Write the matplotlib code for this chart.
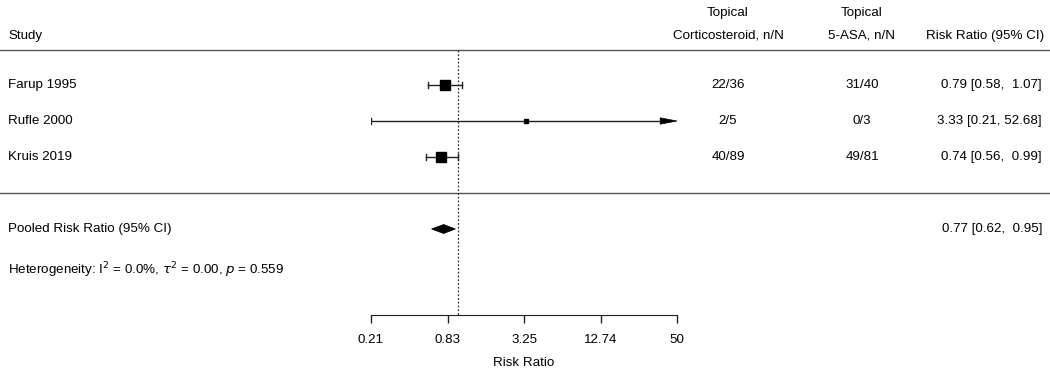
import matplotlib
matplotlib.use("Agg")
import matplotlib.pyplot as plt
from matplotlib.patches import Polygon
import numpy as np

plt.rcParams['font.family'] = ['Liberation Sans', 'DejaVu Sans']
plt.rcParams['font.size'] = 9.6

# ===== DATA =====
studies = ["Farup 1995", "Rufle 2000", "Kruis 2019"]
cortico = ["22/36", "2/5", "40/89"]
asa = ["31/40", "0/3", "49/81"]
rr = [0.79, 3.33, 0.74]
lo = [0.58, 0.21, 0.56]
hi = [1.07, 52.68, 0.99]
weights = [0.42, 0.01, 0.57]
pooled = (0.77, 0.62, 0.95)
tick_vals = [0.21, 0.83, 3.25, 12.74, 50]
tick_labels = ["0.21", "0.83", "3.25", "12.74", "50"]
xmin, xmax = 0.21, 50

# ===== LAYOUT (pixels) =====
W, H = 1050, 368
row_y = [85, 121, 157]
pooled_y = 229
het_y = 269
axis_y = 315

fig = plt.figure(figsize=(W / 100, H / 100), dpi=100)
ax = fig.add_axes([0, 0, 1, 1])
ax.set_xlim(0, W)
ax.set_ylim(H, 0)
ax.axis('off')

# header
ax.text(8, 36, "Study", ha='left', va='center')
ax.text(728, 13, "Topical", ha='center', va='center')
ax.text(728, 36, "Corticosteroid, n/N", ha='center', va='center')
ax.text(862, 13, "Topical", ha='center', va='center')
ax.text(862, 36, "5-ASA, n/N", ha='center', va='center')
ax.text(1044, 36, "Risk Ratio (95% CI)", ha='right', va='center')
ax.axhline(50, color='#555555', lw=1.0)
ax.axhline(193, color='#555555', lw=1.0)

for i, y in enumerate(row_y):
    ax.text(8, y, studies[i], ha='left', va='center')
    ax.text(728, y, cortico[i], ha='center', va='center')
    ax.text(862, y, asa[i], ha='center', va='center')
    ax.text(1042, y, f"{rr[i]:.2f} [{lo[i]:.2f}, {hi[i]:5.2f}]", ha='right', va='center')

ax.text(8, pooled_y, "Pooled Risk Ratio (95% CI)", ha='left', va='center')
ax.text(1042, pooled_y, f"{pooled[0]:.2f} [{pooled[1]:.2f}, {pooled[2]:5.2f}]", ha='right', va='center')
ax.text(8, het_y + 1, r"Heterogeneity: I$^2$ = 0.0%, $\tau^2$ = 0.00, $\it{p}$ = 0.559",
        ha='left', va='center')
ax.text(524, 363, "Risk Ratio", ha='center', va='center')

# forest axes (log scale)
fa = fig.add_axes([371 / W, 0, 306 / W, 1])
fa.set_xscale('log')
fa.set_xlim(xmin, xmax)
fa.set_ylim(H, 0)
fa.patch.set_alpha(0)
for s in ['top', 'left', 'right']:
    fa.spines[s].set_visible(False)
fa.spines['bottom'].set_position(('data', axis_y))
fa.spines['bottom'].set_bounds(xmin, xmax)
fa.spines['bottom'].set_color('#222222')
fa.set_yticks([])
fa.set_xticks(tick_vals)
fa.set_xticklabels(tick_labels)
fa.xaxis.set_minor_locator(matplotlib.ticker.NullLocator())
fa.tick_params(axis='x', direction='out', length=6, width=1, pad=8, color='#222222')

# reference line at 1
fa.plot([1, 1], [50, axis_y], ls=(0, (1.5, 1.5)), color='#333333', lw=0.9)

for i, y in enumerate(row_y):
    right = min(hi[i], xmax * 0.75)
    fa.plot([lo[i], right], [y, y], color='#222222', lw=1.0)
    fa.plot([lo[i], lo[i]], [y - 3, y + 3], color='#222222', lw=1.0)
    if hi[i] > xmax:
        head = Polygon([(xmax * 0.74, y - 3.2), (xmax, y), (xmax * 0.74, y + 3.2)],
                       closed=True, facecolor='black', edgecolor='black', lw=0.5)
        fa.add_patch(head)
    else:
        fa.plot([hi[i], hi[i]], [y - 3, y + 3], color='#222222', lw=1.0)
    size = 2.5 + 5 * np.sqrt(weights[i] / max(weights))
    fa.plot(rr[i], y, marker='s', ms=size, color='black', mec='black')

# pooled diamond
d = Polygon([(pooled[1], pooled_y), (pooled[0], pooled_y - 4.5),
             (pooled[2], pooled_y), (pooled[0], pooled_y + 4.5)],
            closed=True, facecolor='black', edgecolor='black', lw=0.5)
fa.add_patch(d)

fig.savefig("out.png", dpi=100)
